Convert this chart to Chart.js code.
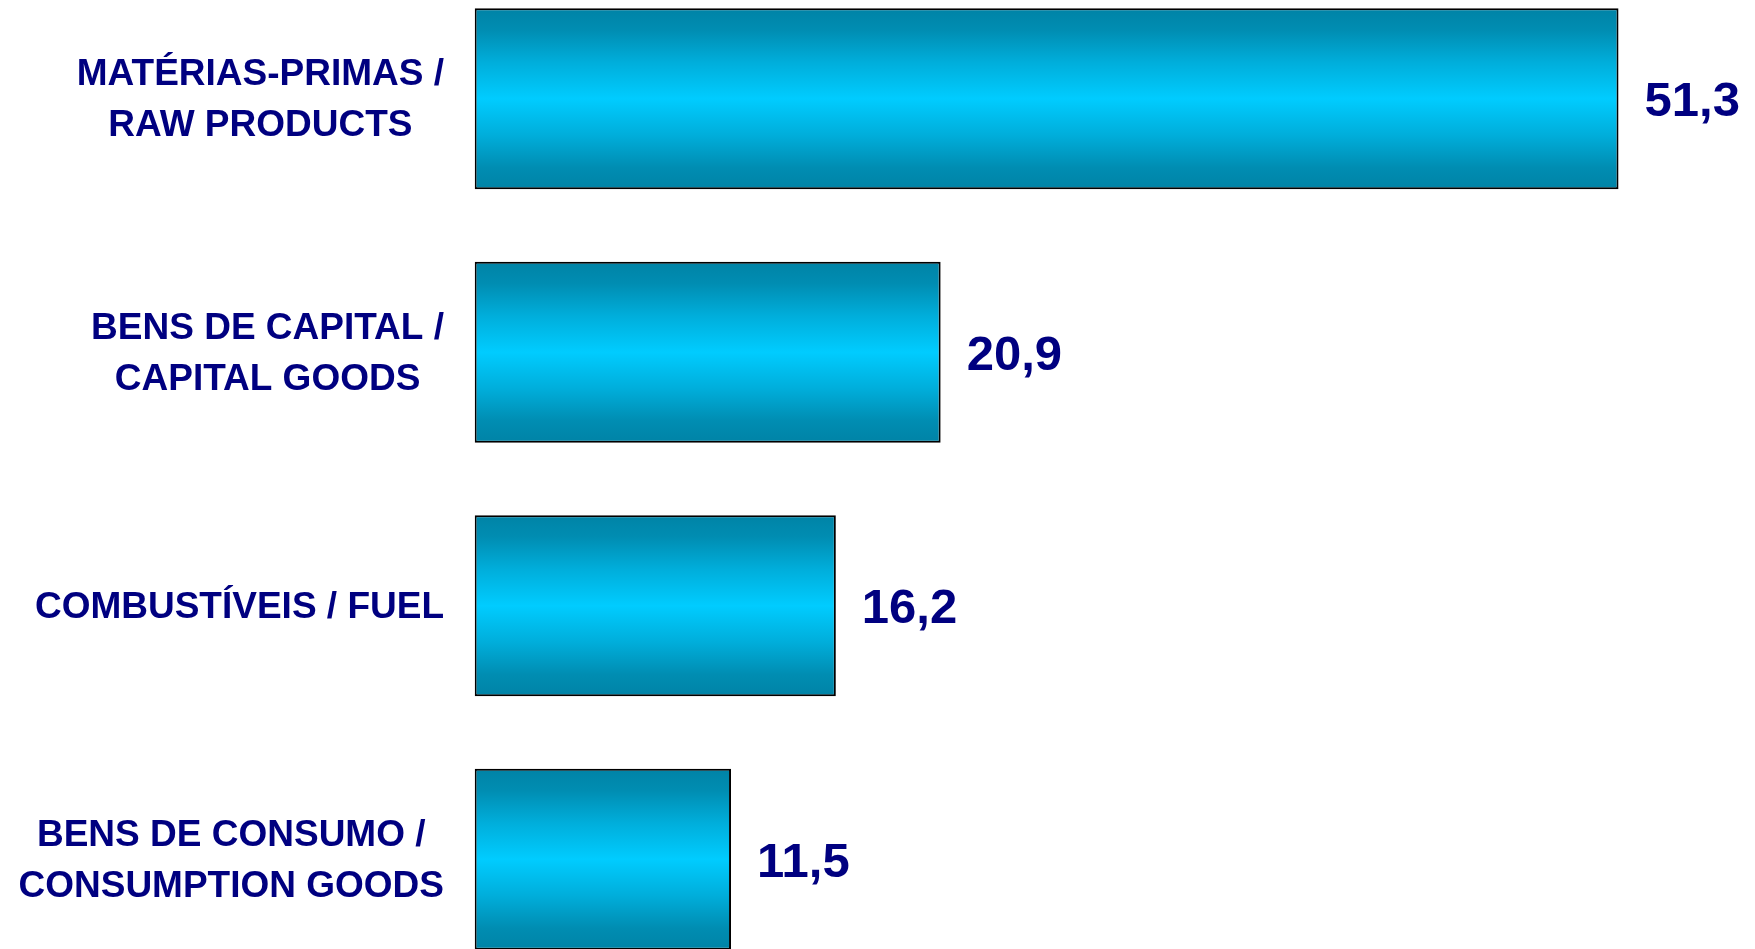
<!DOCTYPE html>
<html>
<head>
<meta charset="utf-8">
<script src="https://cdn.jsdelivr.net/npm/chart.js@4.4.1/dist/chart.umd.min.js"></script>
<style>
  html, body { margin: 0; padding: 0; background: #ffffff; overflow: hidden; width: 1755px; height: 949px; }
  #wrap { position: absolute; left: 0; top: -28px; width: 1755px; height: 1014px; }
</style>
</head>
<body>
<div id="wrap"><canvas id="c" width="1755" height="1014"></canvas></div>
<script>
// ---- data ----
const categories = [
  ['MATÉRIAS-PRIMAS /', 'RAW PRODUCTS'],
  ['BENS DE CAPITAL /', 'CAPITAL GOODS'],
  ['COMBUSTÍVEIS / FUEL'],
  ['BENS DE CONSUMO /', 'CONSUMPTION GOODS']
];
const values = [51.3, 20.9, 16.2, 11.5];
const valueLabels = values.map(v => v.toFixed(1).replace('.', ','));
const X_MIN = 0;
const X_MAX = 57.42;

// ---- styles ----
const TEXT_COLOR = '#000080';
const LABEL_FONT_SIZE = 37;
const LABEL_LINE_GAP = 51;
const VALUE_FONT_SIZE = 49;
const FONT_FAMILY = '"Liberation Sans", Arial, Helvetica, sans-serif';
const LABEL_RIGHT = 444;
const VALUE_GAP = 26;
const BAR_PCT = 0.714;

function barGradient(context) {
  const chart = context.chart;
  const yScale = chart.scales && chart.scales.y;
  if (!chart.chartArea || !yScale) return '#00ccff';
  const n = chart.data.labels.length;
  const cat = (yScale.bottom - yScale.top) / n;
  const h = cat * BAR_PCT;
  const cy = yScale.getPixelForValue(context.dataIndex);
  const g = chart.ctx.createLinearGradient(0, cy - h / 2, 0, cy + h / 2);
  g.addColorStop(0.00, '#0083a6');
  g.addColorStop(0.12, '#008db2');
  g.addColorStop(0.30, '#00aedb');
  g.addColorStop(0.50, '#00ccff');
  g.addColorStop(0.70, '#00aedb');
  g.addColorStop(0.88, '#008db2');
  g.addColorStop(1.00, '#0083a6');
  return g;
}

const labelPlugin = {
  id: 'textLabels',
  afterDatasetsDraw(chart) {
    const ctx = chart.ctx;
    const yScale = chart.scales.y;
    const meta = chart.getDatasetMeta(0);
    ctx.save();
    ctx.fillStyle = TEXT_COLOR;
    ctx.textBaseline = 'alphabetic';
    // category labels: block right-aligned, lines centered within block
    ctx.font = 'bold ' + LABEL_FONT_SIZE + 'px ' + FONT_FAMILY;
    categories.forEach((lines, i) => {
      const cy = yScale.getPixelForValue(i) - 1;
      const maxW = Math.max(...lines.map(l => ctx.measureText(l).width));
      const cx = LABEL_RIGHT - maxW / 2;
      ctx.textAlign = 'center';
      const n = lines.length;
      lines.forEach((l, k) => {
        const lc = cy + (k - (n - 1) / 2) * LABEL_LINE_GAP;
        ctx.fillText(l, cx, lc + 0.358 * LABEL_FONT_SIZE);
      });
    });
    // value labels
    ctx.font = 'bold ' + VALUE_FONT_SIZE + 'px ' + FONT_FAMILY;
    ctx.textAlign = 'left';
    meta.data.forEach((el, i) => {
      const p = el.getProps(['x', 'y'], true);
      ctx.fillText(valueLabels[i], p.x + VALUE_GAP, p.y + 0.358 * VALUE_FONT_SIZE);
    });
    ctx.restore();
  }
};

new Chart(document.getElementById('c'), {
  type: 'bar',
  data: {
    labels: categories,
    datasets: [{
      data: values,
      backgroundColor: barGradient,
      borderColor: '#000000',
      borderWidth: 2,
      borderSkipped: false,
      barPercentage: BAR_PCT,
      categoryPercentage: 1.0
    }]
  },
  options: {
    indexAxis: 'y',
    responsive: false,
    maintainAspectRatio: false,
    devicePixelRatio: 1,
    animation: false,
    layout: { padding: { left: 474.6, right: 0, top: 0, bottom: 0 } },
    plugins: { legend: { display: false }, tooltip: { enabled: false }, title: { display: false } },
    scales: {
      x: { display: false, min: X_MIN, max: X_MAX },
      y: { display: false, offset: true }
    }
  },
  plugins: [labelPlugin]
});
</script>
</body>
</html>
